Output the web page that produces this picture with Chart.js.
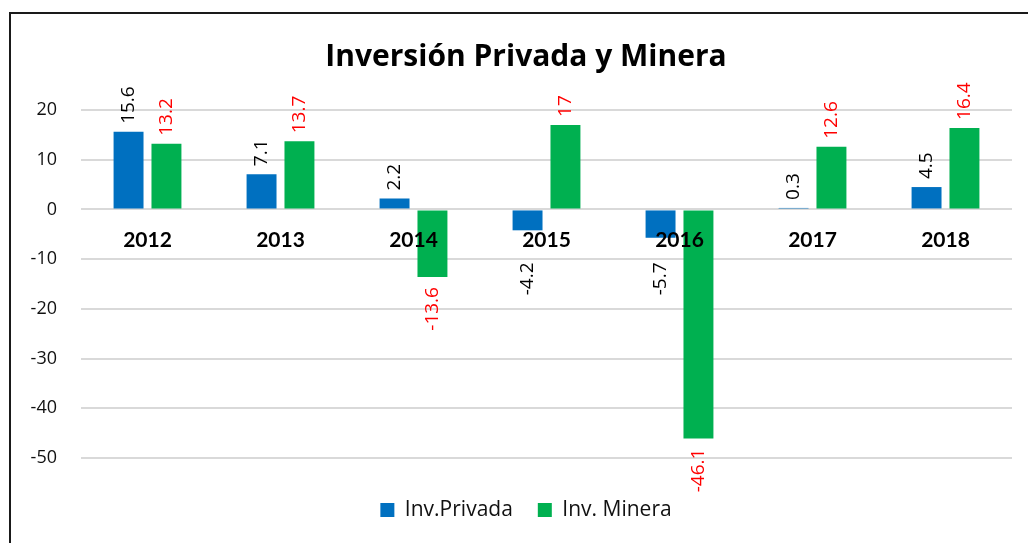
<!DOCTYPE html>
<html>
<head>
<meta charset="utf-8">
<script src="https://cdn.jsdelivr.net/npm/chart.js@4.4.1/dist/chart.umd.min.js"></script>
<style>
  html, body { margin: 0; padding: 0; background: #fff; }
  #wrap { position: relative; width: 1028px; height: 543px; overflow: hidden; }
  #frame { position: absolute; left: 9px; top: 12px; width: 1100px; height: 600px;
           border-left: 2px solid #1a1a1a; border-top: 2px solid #1a1a1a; pointer-events: none; }
  canvas { display: block; }
</style>
</head>
<body>
<div id="wrap">
  <!-- the original chart is cut off on the right, so the canvas runs a bit past the window -->
  <canvas id="chart" width="1052" height="543"></canvas>
  <div id="frame"></div>
</div>
<script>
// --- data ---
const YEARS = ['2012', '2013', '2014', '2015', '2016', '2017', '2018'];
const INV_PRIVADA = [15.6, 7.1, 2.2, -4.2, -5.7, 0.3, 4.5];
const INV_MINERA = [13.2, 13.7, -13.6, 17, -46.1, 12.6, 16.4];
const Y_MIN = -50;
const Y_MAX = 20;
const Y_STEP = 10;

const BLUE = '#0070C0';
const GREEN = '#00B050';

// rotated value labels, above positive bars and below negative ones
const barLabels = {
  id: 'barLabels',
  afterDatasetsDraw(chart) {
    const ctx = chart.ctx;
    const zeroY = chart.scales.y.getPixelForValue(0);
    chart.data.datasets.forEach((ds, i) => {
      chart.getDatasetMeta(i).data.forEach((bar, j) => {
        const v = ds.data[j];
        const pos = v >= 0;
        ctx.save();
        ctx.translate(bar.x, pos ? bar.y - 8 : Math.max(bar.y + 10, zeroY + 53));
        ctx.rotate(-Math.PI / 2);
        ctx.font = '19px "Open Sans"';
        ctx.fillStyle = ds.labelColor;
        ctx.textBaseline = 'middle';
        ctx.textAlign = pos ? 'left' : 'right';
        ctx.fillText(String(v), 0, 0);
        ctx.restore();
      });
    });
  }
};

new Chart(document.getElementById('chart'), {
  type: 'bar',
  data: {
    labels: YEARS,
    datasets: [
      { label: 'Inv.Privada', data: INV_PRIVADA, backgroundColor: BLUE, labelColor: '#000' },
      { label: 'Inv. Minera', data: INV_MINERA, backgroundColor: GREEN, labelColor: '#FF0000' }
    ]
  },
  options: {
    responsive: false,
    animation: false,
    categoryPercentage: 0.57,
    barPercentage: 0.79,
    layout: { padding: { top: 0, left: 0, right: 0, bottom: 12.5 } },
    plugins: {
      title: {
        display: true,
        text: 'Inversión Privada y Minera',
        color: '#000',
        font: { family: 'Open Sans', size: 30, weight: 'bold' },
        padding: { top: 39, bottom: 35 }
      },
      legend: {
        position: 'bottom',
        title: { display: true, text: ' ', padding: 0, font: { size: 16.5, lineHeight: 1 } },
        labels: {
          boxWidth: 14, boxHeight: 14, padding: 25, color: '#111',
          font: { family: 'Open Sans', size: 21 }
        }
      },
      tooltip: { enabled: false }
    },
    scales: {
      x: {
        position: { y: 0 },
        grid: { display: false, drawTicks: false },
        border: { display: false },
        ticks: { z: 1, color: '#000', padding: 18, font: { family: 'Lato', size: 21, weight: 'bold' } }
      },
      y: {
        min: Y_MIN,
        max: Y_MAX,
        afterFit(scale) { scale.width = 81; },
        grid: { color: '#d9d9d9', lineWidth: 2, drawTicks: false },
        border: { display: false },
        ticks: { stepSize: Y_STEP, padding: 24, color: '#111', font: { family: 'Open Sans', size: 18 } }
      },
      // empty right margin so the plot ends where the original one does
      yPad: {
        position: 'right',
        afterFit(scale) { scale.width = 40; },
        grid: { display: false },
        border: { display: false },
        ticks: { display: false }
      }
    }
  },
  plugins: [barLabels]
});
</script>
</body>
</html>
